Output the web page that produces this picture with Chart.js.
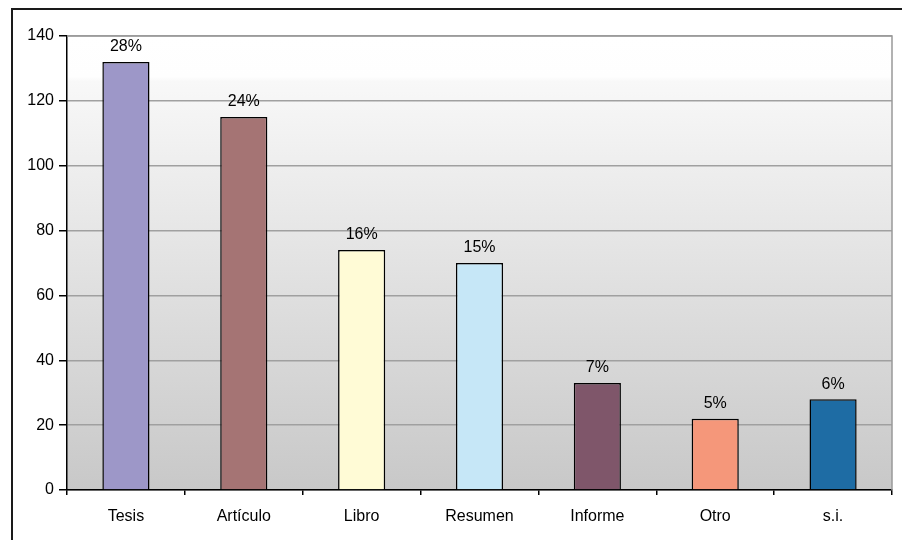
<!DOCTYPE html>
<html>
<head>
<meta charset="utf-8">
<script src="https://cdn.jsdelivr.net/npm/chart.js@4/dist/chart.umd.min.js"></script>
<style>
  html, body { margin: 0; padding: 0; background: #fff; }
  #wrap { width: 902px; height: 540px; position: relative; }
</style>
</head>
<body>
<div id="wrap"><canvas id="chart" width="902" height="540"></canvas></div>
<script>
// Data
const categories = ["Tesis", "Artículo", "Libro", "Resumen", "Informe", "Otro", "s.i."];
const counts = [132, 115, 74, 70, 33, 22, 28];
const percentLabels = ["28%", "24%", "16%", "15%", "7%", "5%", "6%"];
const barColors = ["#9D97C8", "#A57474", "#FFFBD6", "#C6E7F7", "#7F566A", "#F5977A", "#1E6CA4"];

const FONT = "'Liberation Sans', Arial, sans-serif";

// background gradient + outer frame + plot border
const framePlugin = {
  id: "frame",
  beforeDraw(chart) {
    const { ctx, chartArea: a } = chart;
    ctx.save();
    const g = ctx.createLinearGradient(0, a.top, 0, a.bottom);
    g.addColorStop(0, "#ffffff");
    g.addColorStop(0.09, "#fefefe");
    g.addColorStop(0.1, "#f8f8f8");
    g.addColorStop(1, "#c8c8c8");
    ctx.fillStyle = g;
    ctx.fillRect(a.left, a.top, a.right - a.left, a.bottom - a.top);
    ctx.restore();
  },
  afterDraw(chart) {
    const { ctx, chartArea: a } = chart;
    ctx.save();
    // plot area top/right border
    ctx.strokeStyle = "#999999";
    ctx.lineWidth = 1.5;
    ctx.beginPath();
    ctx.moveTo(a.left, a.top);
    ctx.lineTo(a.right, a.top);
    ctx.lineTo(a.right, a.bottom);
    ctx.stroke();
    // outer frame
    ctx.strokeStyle = "#1a1a1a";
    ctx.lineWidth = 2;
    ctx.beginPath();
    ctx.moveTo(12, 540);
    ctx.lineTo(12, 9);
    ctx.lineTo(902, 9);
    ctx.stroke();
    ctx.restore();
  }
};

// percent labels above bars
const labelPlugin = {
  id: "pctLabels",
  afterDatasetsDraw(chart) {
    const { ctx } = chart;
    const meta = chart.getDatasetMeta(0);
    ctx.save();
    ctx.font = "16px " + FONT;
    ctx.fillStyle = "#000";
    ctx.textAlign = "center";
    ctx.textBaseline = "middle";
    meta.data.forEach((bar, i) => {
      ctx.fillText(percentLabels[i], bar.x, bar.y - 15);
    });
    ctx.restore();
  }
};

const ctx = document.getElementById("chart").getContext("2d");
new Chart(ctx, {
  type: "bar",
  data: {
    labels: categories,
    datasets: [{
      data: counts,
      backgroundColor: barColors,
      borderColor: "#000",
      borderWidth: 1.5,
      barPercentage: 0.4,
      categoryPercentage: 1.0,
    }],
  },
  options: {
    responsive: false,
    maintainAspectRatio: false,
    animation: false,
    layout: { padding: { left: 0, top: 36, right: 10, bottom: 0 } },
    plugins: {
      legend: { display: false },
      tooltip: { enabled: false },
    },
    scales: {
      y: {
        min: 0,
        max: 140,
        ticks: {
          stepSize: 20,
          color: "#000",
          padding: 5,
          font: { size: 16, family: FONT },
        },
        grid: {
          color: "#a0a0a0",
          lineWidth: 1.5,
          tickColor: "#000",
          tickLength: 8,
        },
        border: { color: "#000", width: 1.5 },
        afterFit(s) { s.width = 67; },
      },
      x: {
        ticks: {
          color: "#000",
          padding: 12,
          font: { size: 16, family: FONT },
        },
        grid: {
          offset: true,
          drawOnChartArea: false,
          tickColor: "#000",
          tickLength: 5,
          lineWidth: 1.5,
        },
        border: { color: "#000", width: 1.5 },
        afterFit(s) { s.height = 50; },
      },
    },
  },
  plugins: [framePlugin, labelPlugin],
});
</script>
</body>
</html>
